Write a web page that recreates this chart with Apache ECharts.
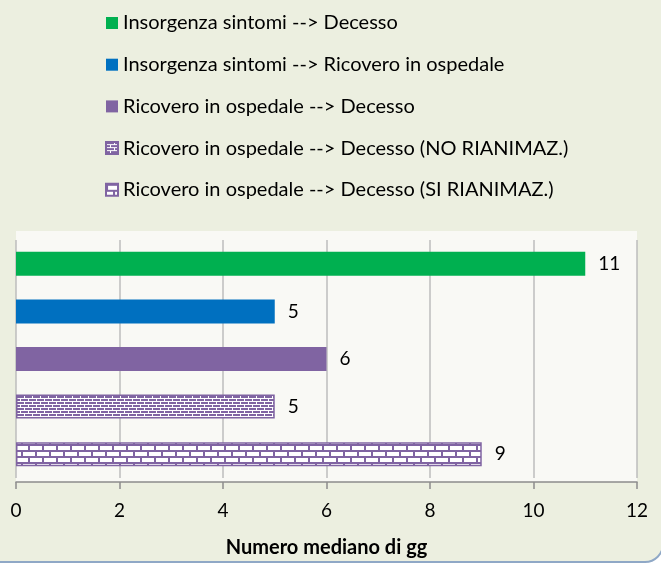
<!DOCTYPE html>
<html>
<head>
<meta charset="utf-8">
<script src="https://cdn.jsdelivr.net/npm/echarts@6/dist/echarts.min.js"></script>
<style>
html,body{margin:0;padding:0;background:#ffffff;}
#chart{width:661px;height:565px;}
</style>
</head>
<body>
<div id="chart"></div>
<script>
var categories = [
  "Insorgenza sintomi --> Decesso",
  "Insorgenza sintomi --> Ricovero in ospedale",
  "Ricovero in ospedale --> Decesso",
  "Ricovero in ospedale --> Decesso (NO RIANIMAZ.)",
  "Ricovero in ospedale --> Decesso (SI RIANIMAZ.)"
];
var values = [11, 5, 6, 5, 9];
var xTicks = { min: 0, max: 12, interval: 2 };
var axisName = "Numero mediano di gg";

var PURPLE = '#8064A2';
function smallBrick() {
  var c = document.createElement('canvas');
  c.width = 8; c.height = 6;
  var g = c.getContext('2d');
  g.fillStyle = PURPLE; g.fillRect(0, 0, 8, 6);
  g.fillStyle = '#ffffff';
  g.fillRect(0, 2, 8, 1);
  g.fillRect(0, 5, 8, 1);
  g.fillRect(0, 0, 1, 2);
  g.fillRect(4, 3, 1, 2);
  return c;
}
function largeBrick() {
  var c = document.createElement('canvas');
  c.width = 14; c.height = 12;
  var g = c.getContext('2d');
  g.fillStyle = '#ffffff'; g.fillRect(0, 0, 14, 12);
  g.fillStyle = PURPLE;
  g.fillRect(0, 0, 14, 2);
  g.fillRect(0, 6, 14, 2);
  g.fillRect(0, 0, 2, 6);
  g.fillRect(7, 6, 2, 6);
  return c;
}
var fills = [
  '#00B050',
  '#0070C0',
  PURPLE,
  { image: smallBrick(), repeat: 'repeat' },
  { image: largeBrick(), repeat: 'repeat' }
];

var FONT = 'Lato';
var series = categories.map(function (name, i) {
  return {
    name: name,
    type: 'bar',
    stack: 'all',
    barWidth: 24,
    data: categories.map(function (c, j) { return j === i ? values[i] : '-'; }),
    itemStyle: {
      color: fills[i],
      borderColor: i >= 3 ? PURPLE : undefined,
      borderWidth: i >= 3 ? 1.5 : 0
    },
    label: {
      show: true, position: 'right', distance: 13,
      fontSize: 19, color: '#000', fontFamily: FONT
    },
    emphasis: { disabled: true }
  };
});

var chart = echarts.init(document.getElementById('chart'), null, { renderer: 'canvas' });
chart.setOption({
  animation: false,
  backgroundColor: '#ffffff',
  graphic: [
    {
      type: 'rect', z: -100,
      shape: { x: -20, y: -20, width: 683, height: 582, r: 18 },
      style: { fill: '#ECEFE0', stroke: '#8FA8C6', lineWidth: 2 }
    },
    {
      type: 'rect', z: -90,
      shape: { x: 16, y: 231, width: 621, height: 251 },
      style: { fill: '#F9F9F5', stroke: null }
    }
  ],
  legend: {
    orient: 'vertical',
    left: 105, top: 13, padding: 0,
    itemWidth: 12, itemHeight: 12, itemGap: 21.7,
    icon: 'rect',
    textStyle: { fontSize: 20, lineHeight: 20, color: '#000', fontFamily: FONT },
    data: categories
  },
  grid: { left: 16, right: 24, top: 240, height: 238, containLabel: false },
  xAxis: {
    type: 'value', min: xTicks.min, max: xTicks.max, interval: xTicks.interval,
    offset: 4,
    axisLine: { show: true, lineStyle: { color: '#8C8C8C', width: 1.5 } },
    axisTick: { show: true, length: 7, lineStyle: { color: '#8C8C8C', width: 1.5 } },
    axisLabel: { fontSize: 19, color: '#000', margin: 19, fontFamily: FONT },
    splitLine: { show: true, lineStyle: { color: '#BDBDBD', width: 1.5 } },
    name: axisName, nameLocation: 'middle', nameGap: 56,
    nameTextStyle: { fontSize: 20, fontWeight: 'bold', color: '#000', fontFamily: FONT }
  },
  yAxis: {
    type: 'category', inverse: true, data: categories,
    axisLine: { show: false }, axisTick: { show: false }, axisLabel: { show: false },
    splitLine: { show: false }
  },
  series: series
});
</script>
</body>
</html>
